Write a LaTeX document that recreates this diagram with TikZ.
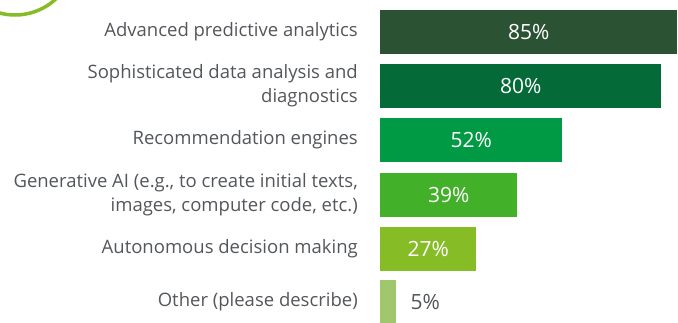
\documentclass[tikz,border=0pt]{standalone}
\usepackage{fontspec}
\setmainfont{Open Sans}
\usetikzlibrary{positioning}
\definecolor{gA}{HTML}{2C5234}
\definecolor{gB}{HTML}{046A38}
\definecolor{gC}{HTML}{009A44}
\definecolor{gD}{HTML}{43B02A}
\definecolor{gE}{HTML}{86BC25}
\definecolor{gF}{HTML}{A0C76E}
\definecolor{txt}{HTML}{53565A}
\tikzset{
  bar/.style={anchor=west,inner sep=0pt,minimum height=44pt,text=white,font=\fontsize{21}{24}\selectfont},
  lab/.style={inner sep=0pt,align=right,text=txt,font=\fontsize{18.5}{23.5}\selectfont},
}
\begin{document}
\begin{tikzpicture}[x=1pt,y=1pt,line cap=round]
	\useasboundingbox (0,0) rectangle (678,-322);
	\draw[gE,line width=3.5pt] (15,45) ++(185:60) arc (185:330:60);
	\node[bar,fill=gA,minimum width=297pt] (bar85) at (380,-31.5) {85\%};
	\node[bar,fill=gB,minimum width=281pt] (bar80) at (380,-85.5) {80\%};
	\node[bar,fill=gC,minimum width=182pt] (bar52) at (380,-139.5) {52\%};
	\node[bar,fill=gD,minimum width=137pt] (bar39) at (380,-194.5) {39\%};
	\node[bar,fill=gE,minimum width=96pt] (bar27) at (380,-248.5) {27\%};
	\node[bar,fill=gF,minimum width=16pt] (bar05) at (380,-301.5) {};
	\node[bar,text=txt,right=14pt of bar05] (pct05) {5\%};
	% labels
	\node[lab,left=22pt of bar85] (lab85) {Advanced predictive analytics};
	\node[lab,left=22pt of bar80] (lab80) {Sophisticated data analysis and\\diagnostics};
	\node[lab,left=22pt of bar52] (lab52) {Recommendation engines};
	\node[lab,left=22pt of bar39] (lab39) {Generative AI (e.g., to create initial texts,\\images, computer code, etc.)};
	\node[lab,left=22pt of bar27] (lab27) {Autonomous decision making};
	\node[lab,left=22pt of bar05] (lab05) {Other (please describe)};
\end{tikzpicture}
\end{document}
